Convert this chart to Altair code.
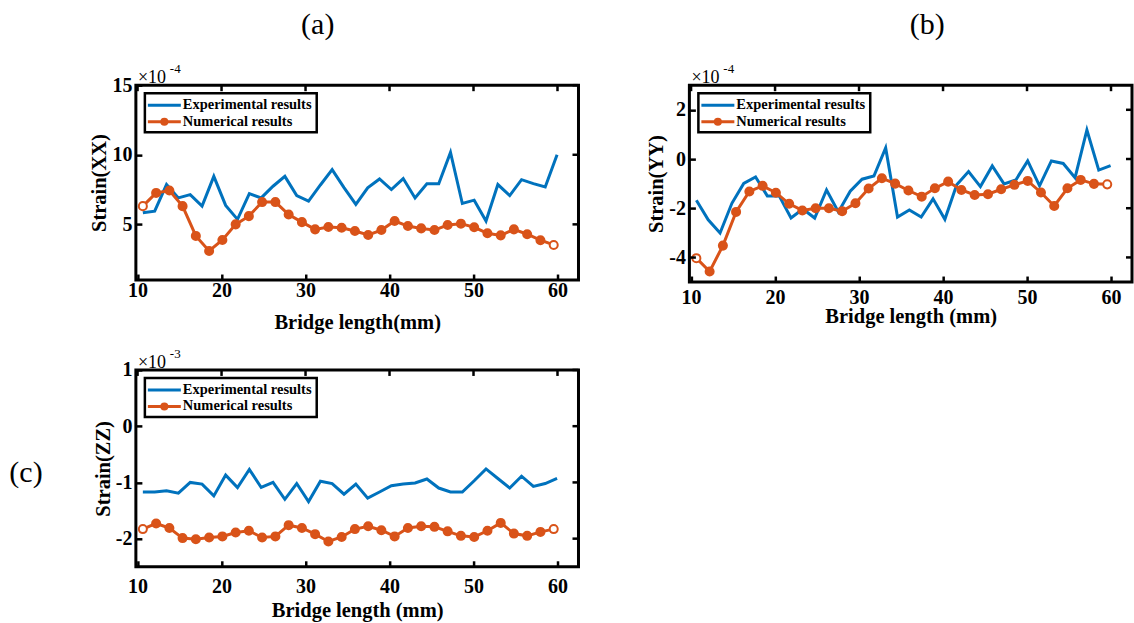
import altair as alt
import pandas as pd

# ---------------- data ----------------
x_exp = [10.63, 12.04, 13.45, 14.86, 16.27, 17.68, 19.08, 20.49, 21.90, 23.31,
         24.72, 26.13, 27.54, 28.95, 30.36, 31.77, 33.17, 34.58, 35.99, 37.40,
         38.81, 40.22, 41.63, 43.04, 44.45, 45.86, 47.26, 48.67, 50.08, 51.49,
         52.90, 54.31, 55.72, 57.13, 58.54, 59.95]
x_num = [10.63, 12.21, 13.79, 15.36, 16.94, 18.52, 20.10, 21.68, 23.25, 24.83,
         26.41, 27.99, 29.57, 31.14, 32.72, 34.30, 35.88, 37.46, 39.03, 40.61,
         42.19, 43.77, 45.35, 46.92, 48.50, 50.08, 51.66, 53.24, 54.81, 56.39,
         57.97, 59.55]

xx_exp = [5.83, 5.95, 7.86, 6.90, 7.14, 6.31, 8.45, 6.36, 5.36, 7.21,
          6.90, 7.74, 8.45, 7.07, 6.67, 7.83, 8.93, 7.64, 6.43, 7.62,
          8.26, 7.50, 8.29, 6.90, 7.91, 7.91, 10.17, 6.50, 6.74, 5.24,
          7.86, 7.07, 8.21, 7.93, 7.69, 10.00]
xx_num = [6.31, 7.26, 7.43, 6.31, 4.17, 3.09, 3.88, 5.00, 5.59, 6.60,
          6.60, 5.71, 5.16, 4.64, 4.81, 4.76, 4.52, 4.24, 4.59, 5.24,
          4.88, 4.71, 4.59, 4.95, 5.05, 4.79, 4.36, 4.21, 4.64, 4.29,
          3.86, 3.52]

yy_exp = [-1.68, -2.47, -3.01, -1.80, -0.99, -0.73, -1.50, -1.50, -2.40, -2.03,
          -2.40, -1.26, -2.15, -1.31, -0.82, -0.69, 0.45, -2.36, -2.07, -2.36,
          -1.62, -2.45, -1.05, -0.51, -1.12, -0.28, -1.01, -0.85, -0.08, -1.09,
          -0.08, -0.18, -0.76, 1.18, -0.45, -0.27]
yy_num = [-4.03, -4.57, -3.52, -2.15, -1.32, -1.09, -1.37, -1.82, -2.09, -2.00,
          -2.00, -2.12, -1.80, -1.20, -0.78, -1.00, -1.28, -1.53, -1.19, -0.92,
          -1.26, -1.46, -1.43, -1.23, -1.05, -0.89, -1.36, -1.91, -1.19, -0.85,
          -1.01, -1.03]

zz_exp = [-1.17, -1.17, -1.15, -1.19, -1.00, -1.03, -1.24, -0.87, -1.09, -0.77,
          -1.09, -1.00, -1.30, -1.02, -1.34, -0.98, -1.02, -1.21, -1.03, -1.28,
          -1.17, -1.06, -1.03, -1.01, -0.94, -1.10, -1.17, -1.17, -0.97, -0.76,
          -0.93, -1.10, -0.89, -1.07, -1.02, -0.93]
zz_num = [-1.83, -1.73, -1.81, -1.99, -2.01, -1.98, -1.96, -1.89, -1.86, -1.98,
          -1.96, -1.76, -1.81, -1.92, -2.05, -1.97, -1.83, -1.78, -1.85, -1.96,
          -1.81, -1.78, -1.79, -1.87, -1.95, -1.97, -1.86, -1.72, -1.91, -1.95,
          -1.88, -1.83]

series_names = ["Experimental results", "Numerical results"]
x_ticks = [10, 20, 30, 40, 50, 60]
xx_ticks = [5, 10, 15]
yy_ticks = [-4, -2, 0, 2]
zz_ticks = [-2, -1, 0, 1]

# ---------------- styling ----------------
BLUE = "#0072BD"
ORANGE = "#D95319"
SERIF = "Liberation Serif"
W = 443
TICK = 6


def one(val):
    return pd.DataFrame({"t": [val]})


def panel(exp_vals, num_vals, ydom, yticks, ytitle, xtitle, letter, letter_xy,
          mult, h, xlab_pad, xtit_pad, ylab_pad, ytit_pad, anchor=False):
    exp_df = pd.DataFrame({"x": x_exp, "y": exp_vals})
    n = len(x_num)
    num_df = pd.DataFrame({"x": x_num, "y": num_vals,
                           "end": [1 if i in (0, n - 1) else 0 for i in range(n)]})
    xt_df = pd.DataFrame({"x": x_ticks})
    yt_df = pd.DataFrame({"y": yticks})
    xs = alt.Scale(domain=[9.8, 62.5], nice=False, zero=False)
    ys = alt.Scale(domain=ydom, nice=False, zero=False)
    ax = dict(ticks=True, tickColor="black", tickWidth=2.5, tickSize=TICK,
              offset=-TICK, domain=False, grid=False, labelFont=SERIF,
              labelFontSize=20, labelFontWeight="bold", labelColor="black",
              titleFont=SERIF, titleFontSize=20.5, titleFontWeight="bold",
              titleColor="black", labelFlush=False, labelOverlap=False,
              labelExpr="toString(datum.value)", zindex=1)
    xaxis = alt.Axis(orient="bottom", values=x_ticks, title=xtitle,
                     labelPadding=xlab_pad, titlePadding=xtit_pad, **ax)
    yaxis = alt.Axis(orient="left", values=yticks, title=ytitle,
                     labelPadding=ylab_pad, titlePadding=ytit_pad, **ax)

    X = alt.X("x:Q", scale=xs, axis=xaxis)
    Y = alt.Y("y:Q", scale=ys, axis=yaxis)

    exp_line = alt.Chart(exp_df).mark_line(color=BLUE, strokeWidth=3).encode(x=X, y=Y)
    num_line = alt.Chart(num_df).mark_line(color=ORANGE, strokeWidth=3).encode(x=X, y=Y)
    num_pts = alt.Chart(num_df).mark_point(shape="circle", size=65, opacity=1,
                                           stroke=ORANGE, strokeWidth=2).encode(
        x=X, y=Y,
        fill=alt.condition(alt.datum.end == 1, alt.value("white"), alt.value(ORANGE)),
    )

    # inward ticks on the top and right sides (MATLAB "box on")
    tk = dict(color="black", strokeWidth=2.5)
    t_top = alt.Chart(xt_df).mark_rule(**tk).encode(
        x=X, y=alt.value(0), y2=alt.value(TICK))
    t_right = alt.Chart(yt_df).mark_rule(**tk).encode(
        y=Y, x=alt.value(W - TICK), x2=alt.value(W))

    # legend box (drawn in the plot's upper left corner)
    box = alt.Chart(one("")).mark_rect(fill="white", stroke="black", strokeWidth=2.5).encode(
        x=alt.value(9), x2=alt.value(181), y=alt.value(8), y2=alt.value(47))
    leg_exp = alt.Chart(one("")).mark_rule(color=BLUE, strokeWidth=3).encode(
        x=alt.value(12), x2=alt.value(45), y=alt.value(20))
    leg_num = alt.Chart(one("")).mark_rule(color=ORANGE, strokeWidth=3).encode(
        x=alt.value(12), x2=alt.value(45), y=alt.value(36.5))
    leg_pt = alt.Chart(one("")).mark_point(shape="circle", size=65, filled=True,
                                           color=ORANGE, opacity=1).encode(
        x=alt.value(28.5), y=alt.value(36.5))
    txt = dict(align="left", baseline="middle", font=SERIF, fontWeight="bold",
               fontSize=14.5, color="black")
    leg_t1 = alt.Chart(one(series_names[0])).mark_text(**txt).encode(
        text="t:N", x=alt.value(47), y=alt.value(20))
    leg_t2 = alt.Chart(one(series_names[1])).mark_text(**txt).encode(
        text="t:N", x=alt.value(47), y=alt.value(36.5))

    # multiplier (x10^n) above the frame
    m1 = alt.Chart(one("\u00d710")).mark_text(align="left", baseline="alphabetic",
                                               font=SERIF, fontSize=18, color="black").encode(
        text="t:N", x=alt.value(2), y=alt.value(-2))
    m2 = alt.Chart(one(mult)).mark_text(align="left", baseline="alphabetic",
                                         font=SERIF, fontSize=13, color="black").encode(
        text="t:N", x=alt.value(34), y=alt.value(-12))

    lab = alt.Chart(one(letter)).mark_text(align="center", baseline="middle",
                                           font=SERIF, fontSize=30, color="black").encode(
        text="t:N", x=alt.value(letter_xy[0]), y=alt.value(letter_xy[1]))

    # axes frame, drawn last so that it sits on top
    frame = alt.Chart(one("")).mark_rect(fill="white", fillOpacity=0, stroke="black",
                                         strokeWidth=3).encode(
        x=alt.value(0), x2=alt.value(W), y=alt.value(0), y2=alt.value(h))

    layers = [exp_line, num_line, num_pts, t_top, t_right,
              box, leg_exp, leg_num, leg_pt, leg_t1, leg_t2, m1, m2, lab, frame]
    if anchor:
        layers.append(alt.Chart(one("")).mark_rule(stroke="white", opacity=0).encode(
            x=alt.value(-136), y=alt.value(-85), y2=alt.value(-84)))
    return alt.layer(*layers).properties(width=W, height=h)


pa = panel(xx_exp, xx_num, [1, 15], xx_ticks, "Strain(XX)", "Bridge length(mm)",
           "(a)", (182, -60), "-4", 195, 0, 13, 4, 2, anchor=True)
pb = panel(yy_exp, yy_num, [-5, 3], yy_ticks, "Strain(YY)", "Bridge length (mm)",
           "(b)", (238, -60), "-4", 197, 5, 0, 4, 2)
pc = panel(zz_exp, zz_num, [-2.5, 1], zz_ticks, "Strain(ZZ)", "Bridge length (mm)",
           "(c)", (-110, 103), "-3", 197, 10, 4, 4, 2)

chart = alt.concat(pa, pb, pc, columns=2, spacing={"row": 88, "column": 111},
                   bounds="flush", padding=0, background="white").configure_view(
    strokeWidth=0)

chart.save("out.html", embed_options={"renderer": "svg", "actions": False})
